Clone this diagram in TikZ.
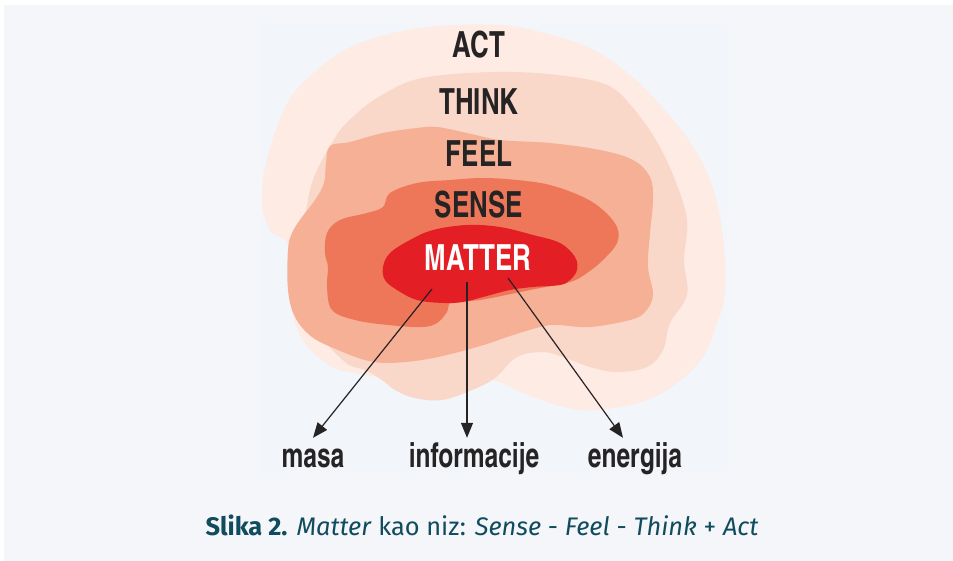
\documentclass[tikz,border=0pt]{standalone}
\usepackage{fontspec}
\setmainfont{Fira Sans}
\newfontfamily\condfont[FakeStretch=0.88]{TeX Gyre Heros Cn}
\usetikzlibrary{arrows.meta}
\definecolor{pagebg}{HTML}{F4F6F9}
\definecolor{panelbg}{HTML}{F2F5F9}
\definecolor{actc}{HTML}{FDEBE4}
\definecolor{thinkc}{HTML}{F9D7C9}
\definecolor{feelc}{HTML}{F5B095}
\definecolor{sensec}{HTML}{EE7759}
\definecolor{matterc}{HTML}{E31F25}
\definecolor{ink}{HTML}{262324}
\definecolor{captionc}{HTML}{104B5E}
\tikzset{
  >={Triangle[length=15pt,width=12pt]},
}
\tikzstyle{blob}=[smooth cycle,tension=0.6]
\tikzstyle{layername}=[anchor=base,inner sep=0pt,text=ink,font=\condfont\bfseries\fontsize{36}{36}\selectfont]
\tikzstyle{outcome}=[anchor=base,inner sep=0pt,text height=19pt,text depth=7pt,text=ink,font=\condfont\bfseries\fontsize{34}{34}\selectfont]
\tikzstyle{ray}=[ink,line width=1.2pt,->]
\tikzstyle{caption}=[anchor=base,inner sep=0pt,text=captionc,font=\fontsize{25.4}{25.4}\selectfont]

\begin{document}
\begin{tikzpicture}[x=1pt,y=-1pt]
    \useasboundingbox (0,0) rectangle (953,561);
    \fill[white] (0,0) rectangle (953,561);
    \fill[pagebg] (4,5) rectangle (953,561);
    \fill[panelbg] (262,24) rectangle (727,472);
    % layers, outside in
    \fill[actc] plot[blob] coordinates {(262,200) (268,155) (288,102) (315,72) (355,45) (420,28) (495,25) (540,32) (590,48) (630,75) (663,108) (690,142) (710,180) (722,230) (725,290) (717,323) (703,357) (677,383) (647,400) (613,408) (583,410) (557,405) (523,393) (490,380) (440,385) (378,377) (355,373) (332,367) (308,347) (295,323) (290,290) (288,245) (270,230)};
    \fill[thinkc] plot[blob] coordinates {(335,138) (355,115) (382,95) (422,78) (495,72) (557,75) (607,85) (633,108) (657,142) (675,180) (687,220) (684,260) (687,295) (670,323) (663,350) (647,367) (617,372) (590,367) (563,357) (543,352) (517,357) (495,378) (472,390) (442,400) (415,398) (395,390) (382,380) (365,370) (345,362) (320,330) (305,260) (310,190)};
    \fill[feelc] plot[blob] coordinates {(330,146) (350,142) (383,133) (417,128) (437,127) (467,133) (500,140) (550,143) (600,150) (633,160) (650,177) (653,200) (650,233) (648,267) (653,295) (645,312) (630,320) (590,327) (557,325) (540,327) (507,337) (490,343) (455,353) (422,360) (388,363) (365,360) (338,350) (312,337) (295,317) (288,290) (288,250) (292,233) (302,217) (315,200) (324,183) (326,163)};
    \fill[sensec] plot[blob] coordinates {(390,193) (417,183) (450,180) (483,178) (517,180) (550,185) (583,197) (603,210) (617,227) (617,243) (603,260) (587,273) (570,282) (530,290) (480,300) (452,302) (447,312) (437,323) (422,327) (388,325) (355,320) (332,310) (327,287) (328,267) (325,253) (327,233) (340,220) (367,213) (383,207)};
    \fill[matterc] plot[blob] coordinates {(383,267) (390,253) (410,240) (433,230) (467,225) (500,227) (533,235) (560,243) (575,257) (577,270) (570,280) (560,285) (533,287) (510,290) (483,297) (463,302) (443,303) (417,300) (397,290) (385,280)};

    \node[layername] (act) at (479,58) {ACT};
    \node[layername] (think) at (479,115) {THINK};
    \node[layername] (feel) at (479,167) {FEEL};
    \node[layername] (sense) at (479,218) {SENSE};
    \node[layername,text=white] (matter) at (478,271) {MATTER};

    \node[outcome] (masa) at (313,467) {masa};
    \node[outcome] (info) at (474,467) {informacije};
    \node[outcome] (energ) at (635,467) {energija};

    \coordinate (m-left) at (432,289);
    \coordinate (m-mid) at (467,282);
    \coordinate (m-right) at (508,278);
    \draw[ray] (m-left) -- ([yshift=10pt]masa.north);
    \draw[ray] (m-mid) -- ([yshift=10pt]m-mid |- info.north);
    \draw[ray] (m-right) -- ([xshift=-12pt,yshift=10pt]energ.north);

    \node[caption] (cap) at (482,535) {\textbf{Slika 2.} \textit{Matter} kao niz: \textit{Sense} - \textit{Feel} - \textit{Think} + \textit{Act}};
\end{tikzpicture}
\end{document}
